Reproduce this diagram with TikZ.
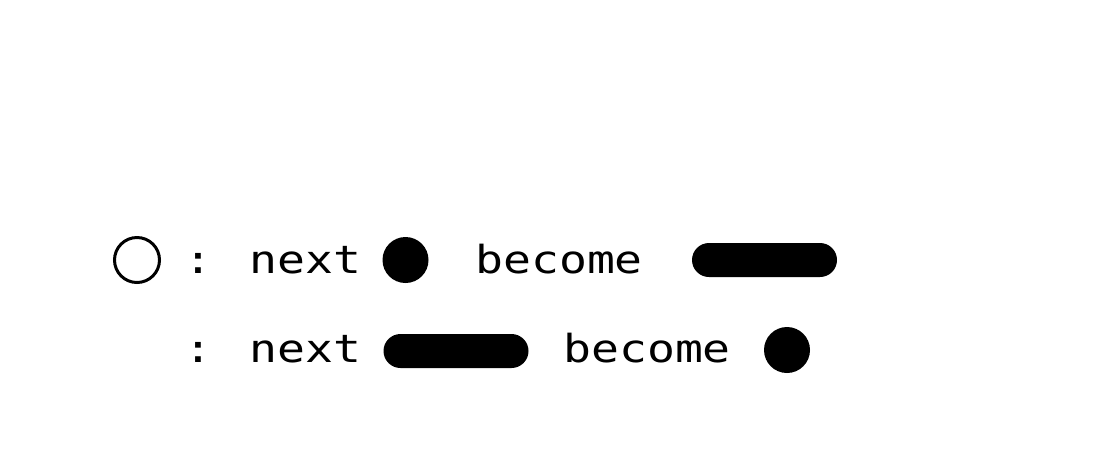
\documentclass[tikz,border=0pt]{standalone}
\usepackage{fontspec}
\newfontfamily\glyphfont[FakeStretch=1.2]{DejaVu Sans Mono}
\begin{document}
\begin{tikzpicture}[x=0.75pt,y=-0.75pt,
  txt/.style={font={\glyphfont\fontsize{29pt}{34pt}\selectfont}, inner sep=0pt, anchor=base west},
  dotopen/.style={circle, draw=black, line width=2.25pt, minimum size=33.75pt, inner sep=0pt},
  dotfill/.style={circle, fill=black, minimum size=34.5pt, inner sep=0pt},
  pill/.style={rectangle, fill=black, minimum width=108.75pt, minimum height=25.5pt, rounded corners=12.75pt, inner sep=0pt}]
\useasboundingbox (0,0) rectangle (1103,455);
\fill[white] (0,0) rectangle (1103,455);
% row 1
\node[dotopen] (open) at (137,260) {};
\node[txt] (next1) at (184,273) {: next};
\node[dotfill] (dot1) at (405.5,260) {};
\node[txt] (become1) at (475,273) {become};
\node[pill] (pill1) at (764.5,260) {};
% row 2
\node[txt] (next2) at (184,362) {: next};
\node[pill] (pill2) at (456,351) {};
\node[txt] (become2) at (563,362) {become};
\node[dotfill] (dot2) at (787,350) {};
\end{tikzpicture}
\end{document}
